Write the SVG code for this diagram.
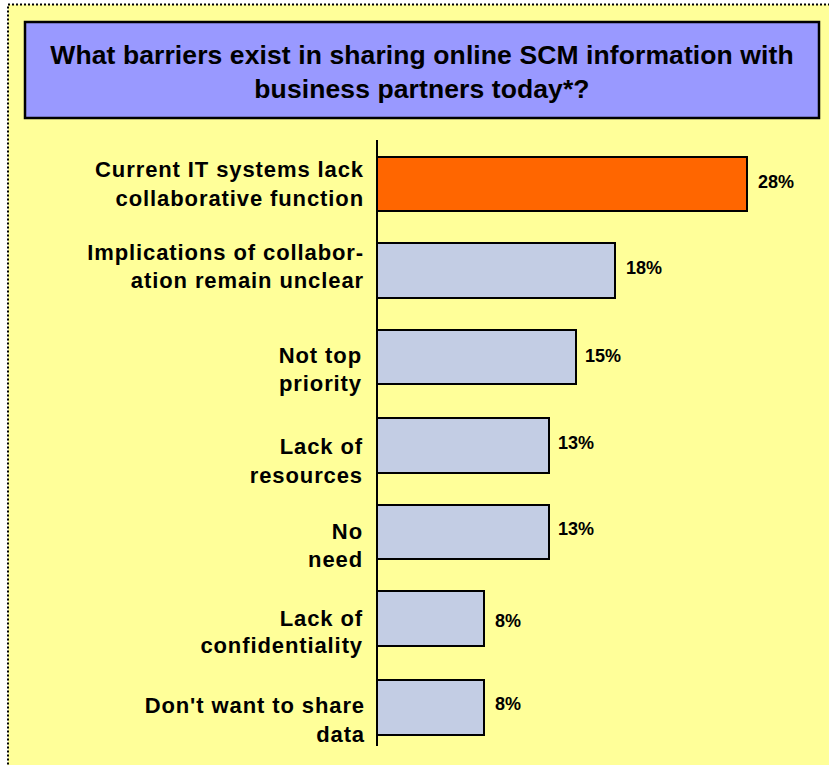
<svg xmlns="http://www.w3.org/2000/svg" width="829" height="765" viewBox="0 0 829 765">
<style>
.lbl{font-family:"Liberation Sans",Arial,sans-serif;font-weight:bold;font-size:22px;letter-spacing:0.9px;fill:#000;text-anchor:end}
.val{font-family:"Liberation Sans",Arial,sans-serif;font-weight:bold;font-size:18px;fill:#000}
.title{font-family:"Liberation Sans",Arial,sans-serif;font-weight:bold;font-size:26.5px;letter-spacing:0.1px;fill:#000;text-anchor:middle}
.bar{fill:#c3cde4;stroke:#000;stroke-width:2}
.hl{fill:#ff6600;stroke:#000;stroke-width:2}
</style>
<rect x="0" y="0" width="829" height="765" fill="#ffffff"/>
<rect x="8" y="4.5" width="830" height="770" fill="#ffff99" stroke="#000" stroke-width="2" stroke-dasharray="2,2"/>
<g id="title">
<rect x="25" y="22" width="794" height="96" fill="#9999ff" stroke="#000" stroke-width="2.5"/>
<text class="title" x="422" y="64">What barriers exist in sharing online SCM information with</text>
<text class="title" x="422" y="98">business partners today*?</text>
</g>
<g id="axis">
<line x1="377" y1="140" x2="377" y2="746" stroke="#000" stroke-width="2"/>
</g>
<g id="bar1">
<rect class="hl" x="377" y="157" width="370" height="54"/>
<text class="lbl" x="364" y="177">Current IT systems lack</text>
<text class="lbl" x="364" y="206">collaborative function</text>
<text class="val" x="758" y="188">28%</text>
</g>
<g id="bar2">
<rect class="bar" x="377" y="243" width="238" height="55"/>
<text class="lbl" x="364" y="260">Implications of collabor-</text>
<text class="lbl" x="364" y="288">ation remain unclear</text>
<text class="val" x="626" y="274">18%</text>
</g>
<g id="bar3">
<rect class="bar" x="377" y="330" width="199" height="54"/>
<text class="lbl" x="362" y="363">Not top</text>
<text class="lbl" x="362" y="391">priority</text>
<text class="val" x="585" y="362">15%</text>
</g>
<g id="bar4">
<rect class="bar" x="377" y="418" width="172" height="55"/>
<text class="lbl" x="363" y="454">Lack of</text>
<text class="lbl" x="363" y="483">resources</text>
<text class="val" x="558" y="449">13%</text>
</g>
<g id="bar5">
<rect class="bar" x="377" y="505" width="172" height="54"/>
<text class="lbl" x="363" y="539">No</text>
<text class="lbl" x="363" y="567">need</text>
<text class="val" x="558" y="535">13%</text>
</g>
<g id="bar6">
<rect class="bar" x="377" y="591" width="107" height="55"/>
<text class="lbl" x="363" y="626">Lack of</text>
<text class="lbl" x="363" y="653">confidentiality</text>
<text class="val" x="495" y="627">8%</text>
</g>
<g id="bar7">
<rect class="bar" x="377" y="680" width="107" height="55"/>
<text class="lbl" x="365" y="713">Don't want to share</text>
<text class="lbl" x="365" y="742">data</text>
<text class="val" x="495" y="710">8%</text>
</g>
</svg>
